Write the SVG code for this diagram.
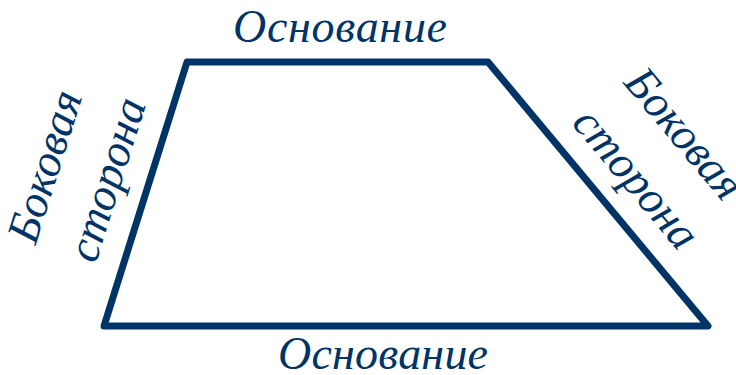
<svg xmlns="http://www.w3.org/2000/svg" width="736" height="375" viewBox="0 0 736 375">
<style>
.lbl{font-family:"Liberation Serif","Times New Roman",serif;font-style:italic;font-size:46px;fill:#003466;text-anchor:middle}
.edge{fill:none;stroke:#003466;stroke-width:7;stroke-linejoin:round}
</style>
<rect width="736" height="375" fill="#fff"/>
<g id="connectors">
<polygon id="trapezoid" class="edge" points="187,62 488,62 708,326 104,326"/>
</g>
<g id="top-base"><text class="lbl" x="340" y="42" textLength="214" lengthAdjust="spacing">Основание</text></g>
<g id="bottom-base"><text class="lbl" x="383" y="369" textLength="210" lengthAdjust="spacing">Основание</text></g>
<g id="left-side">
<text class="lbl" transform="translate(59,171) rotate(-72.5)">Боковая</text>
<text class="lbl" transform="translate(121,184) rotate(-72.5)">сторона</text>
</g>
<g id="right-side">
<text class="lbl" transform="translate(673,143) rotate(50)">Боковая</text>
<text class="lbl" transform="translate(625,188) rotate(50)">сторона</text>
</g>
</svg>
